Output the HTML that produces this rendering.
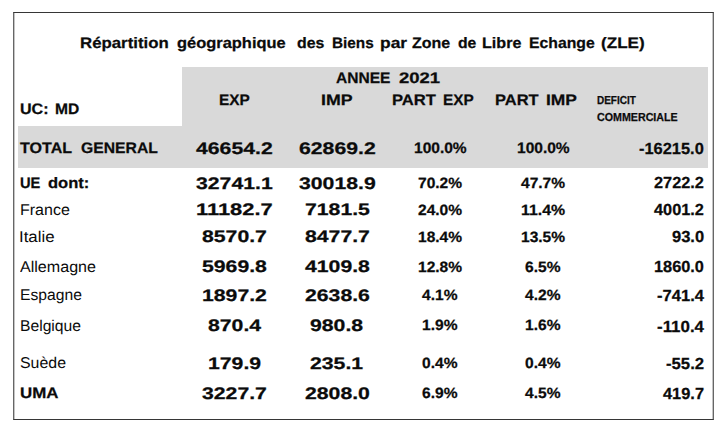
<!DOCTYPE html>
<html><head><meta charset="utf-8"><title>ZLE</title>
<style>
html,body{margin:0;padding:0;background:#fff;}
body{width:727px;height:432px;position:relative;overflow:hidden;font-family:"Liberation Sans",sans-serif;color:#0b0b0b;text-rendering:geometricPrecision;}
.box{position:absolute;left:13px;top:12px;width:699px;height:406px;border:1px solid #666;border-top-color:#363636;border-bottom-color:#363636;}
.box:before,.box:after{content:'';position:absolute;top:0;bottom:0;width:1px;background:#c4c4c4;}
.box:before{left:0;}
.box:after{right:0;}
.g{position:absolute;background:#d9d9d9;}
.t{position:absolute;white-space:pre;line-height:1;transform-origin:0 0;}
.b{font-weight:bold;-webkit-text-stroke:0.25px #0b0b0b;}
</style></head><body>
<div class="box"></div>
<div class="g" style="left:182px;top:67px;width:526px;height:60px"></div>
<div class="g" style="left:18px;top:126px;width:690px;height:41.5px"></div>
<span class="t b" style="left:80.20px;top:36.01px;font-size:15.20px;transform:scaleX(1.1069)">Répartition</span>
<span class="t b" style="left:176.50px;top:36.01px;font-size:15.20px;transform:scaleX(1.0827)">géographique</span>
<span class="t b" style="left:296.70px;top:36.01px;font-size:15.20px;transform:scaleX(1.0462)">des</span>
<span class="t b" style="left:331.50px;top:36.01px;font-size:15.20px;transform:scaleX(1.0099)">Biens</span>
<span class="t b" style="left:380.00px;top:36.01px;font-size:15.20px;transform:scaleX(1.1458)">par</span>
<span class="t b" style="left:412.40px;top:36.01px;font-size:15.20px;transform:scaleX(1.0547)">Zone</span>
<span class="t b" style="left:457.50px;top:36.01px;font-size:15.20px;transform:scaleX(1.0373)">de</span>
<span class="t b" style="left:482.10px;top:36.01px;font-size:15.20px;transform:scaleX(1.0602)">Libre</span>
<span class="t b" style="left:528.50px;top:36.01px;font-size:15.20px;transform:scaleX(1.0386)">Echange</span>
<span class="t b" style="left:601.20px;top:36.01px;font-size:15.20px;transform:scaleX(1.1252)">(ZLE)</span>
<span class="t b" style="left:336.20px;top:71.01px;font-size:15.20px;transform:scaleX(1.0241)">ANNEE</span>
<span class="t b" style="left:398.80px;top:71.01px;font-size:15.20px;transform:scaleX(1.2182)">2021</span>
<span class="t b" style="left:20.10px;top:102.01px;font-size:15.20px;transform:scaleX(1.0589)">UC:</span>
<span class="t b" style="left:55.20px;top:102.01px;font-size:15.20px;transform:scaleX(1.0281)">MD</span>
<span class="t b" style="left:218.90px;top:93.01px;font-size:15.20px;transform:scaleX(1.0127)">EXP</span>
<span class="t b" style="left:321.00px;top:93.01px;font-size:15.20px;transform:scaleX(1.1693)">IMP</span>
<span class="t b" style="left:392.40px;top:93.01px;font-size:15.20px;transform:scaleX(1.0932)">PART</span>
<span class="t b" style="left:442.80px;top:93.01px;font-size:15.20px;transform:scaleX(1.0094)">EXP</span>
<span class="t b" style="left:495.40px;top:93.01px;font-size:15.20px;transform:scaleX(1.0832)">PART</span>
<span class="t b" style="left:546.00px;top:93.01px;font-size:15.20px;transform:scaleX(1.1471)">IMP</span>
<span class="t b" style="left:597.00px;top:95.01px;font-size:11.60px;transform:scaleX(0.8601)">DEFICIT</span>
<span class="t b" style="left:597.20px;top:112.01px;font-size:11.60px;transform:scaleX(0.9208)">COMMERCIALE</span>
<span class="t b" style="left:19.80px;top:141.01px;font-size:15.20px;transform:scaleX(1.0579)">TOTAL</span>
<span class="t b" style="left:80.70px;top:141.01px;font-size:15.20px;transform:scaleX(1.0348)">GENERAL</span>
<span class="t b" style="left:20.20px;top:176.01px;font-size:15.20px;transform:scaleX(0.9662)">UE</span>
<span class="t b" style="left:48.00px;top:176.01px;font-size:15.20px;transform:scaleX(1.0899)">dont:</span>
<span class="t" style="left:20.10px;top:203.01px;font-size:15.60px;transform:scaleX(1.0258)">France</span>
<span class="t" style="left:19.40px;top:230.01px;font-size:15.60px;transform:scaleX(1.0775)">Italie</span>
<span class="t" style="left:19.90px;top:260.01px;font-size:15.60px;transform:scaleX(1.0311)">Allemagne</span>
<span class="t" style="left:20.00px;top:288.01px;font-size:15.60px;transform:scaleX(1.0051)">Espagne</span>
<span class="t" style="left:19.90px;top:319.01px;font-size:15.60px;transform:scaleX(1.0047)">Belgique</span>
<span class="t" style="left:19.60px;top:356.01px;font-size:15.60px;transform:scaleX(1.0196)">Suède</span>
<span class="t b" style="left:19.70px;top:386.01px;font-size:15.20px;transform:scaleX(1.1124)">UMA</span>
<span class="t b" style="left:195.71px;top:141.00px;font-size:16.70px;transform:scaleX(1.2718)">46654.2</span>
<span class="t b" style="left:298.61px;top:141.00px;font-size:16.70px;transform:scaleX(1.2718)">62869.2</span>
<span class="t b" style="left:413.85px;top:141.01px;font-size:15.20px;transform:scaleX(1.0221)">100.0%</span>
<span class="t b" style="left:516.65px;top:141.01px;font-size:15.20px;transform:scaleX(1.0221)">100.0%</span>
<span class="t b" style="left:639.10px;top:142.00px;font-size:16.00px;transform:scaleX(1.0258)">-16215.0</span>
<span class="t b" style="left:195.71px;top:176.00px;font-size:16.70px;transform:scaleX(1.2718)">32741.1</span>
<span class="t b" style="left:298.61px;top:176.00px;font-size:16.70px;transform:scaleX(1.2718)">30018.9</span>
<span class="t b" style="left:418.15px;top:177.01px;font-size:14.90px;transform:scaleX(1.0440)">70.2%</span>
<span class="t b" style="left:520.95px;top:177.01px;font-size:14.90px;transform:scaleX(1.0440)">47.7%</span>
<span class="t b" style="left:654.00px;top:176.00px;font-size:16.00px;transform:scaleX(1.0195)">2722.2</span>
<span class="t b" style="left:195.71px;top:202.00px;font-size:16.70px;transform:scaleX(1.3121)">11182.7</span>
<span class="t b" style="left:304.52px;top:202.00px;font-size:16.70px;transform:scaleX(1.2714)">7181.5</span>
<span class="t b" style="left:418.15px;top:204.01px;font-size:14.90px;transform:scaleX(1.0440)">24.0%</span>
<span class="t b" style="left:520.95px;top:204.01px;font-size:14.90px;transform:scaleX(1.0647)">11.4%</span>
<span class="t b" style="left:654.00px;top:203.00px;font-size:16.00px;transform:scaleX(1.0195)">4001.2</span>
<span class="t b" style="left:201.62px;top:229.00px;font-size:16.70px;transform:scaleX(1.2714)">8570.7</span>
<span class="t b" style="left:304.52px;top:229.00px;font-size:16.70px;transform:scaleX(1.2714)">8477.7</span>
<span class="t b" style="left:418.15px;top:231.01px;font-size:14.90px;transform:scaleX(1.0440)">18.4%</span>
<span class="t b" style="left:520.95px;top:231.01px;font-size:14.90px;transform:scaleX(1.0440)">13.5%</span>
<span class="t b" style="left:671.80px;top:230.00px;font-size:16.00px;transform:scaleX(1.0310)">93.0</span>
<span class="t b" style="left:201.62px;top:259.00px;font-size:16.70px;transform:scaleX(1.2714)">5969.8</span>
<span class="t b" style="left:304.52px;top:259.00px;font-size:16.70px;transform:scaleX(1.2714)">4109.8</span>
<span class="t b" style="left:418.15px;top:261.01px;font-size:14.90px;transform:scaleX(1.0440)">12.8%</span>
<span class="t b" style="left:525.25px;top:261.01px;font-size:14.90px;transform:scaleX(1.0454)">6.5%</span>
<span class="t b" style="left:654.00px;top:260.00px;font-size:16.00px;transform:scaleX(1.0195)">1860.0</span>
<span class="t b" style="left:201.62px;top:288.00px;font-size:16.70px;transform:scaleX(1.2714)">1897.2</span>
<span class="t b" style="left:304.52px;top:288.00px;font-size:16.70px;transform:scaleX(1.2714)">2638.6</span>
<span class="t b" style="left:422.45px;top:289.01px;font-size:14.90px;transform:scaleX(1.0454)">4.1%</span>
<span class="t b" style="left:525.25px;top:289.01px;font-size:14.90px;transform:scaleX(1.0454)">4.2%</span>
<span class="t b" style="left:656.90px;top:289.00px;font-size:16.00px;transform:scaleX(1.0362)">-741.4</span>
<span class="t b" style="left:207.54px;top:318.00px;font-size:16.70px;transform:scaleX(1.2713)">870.4</span>
<span class="t b" style="left:310.44px;top:318.00px;font-size:16.70px;transform:scaleX(1.2713)">980.8</span>
<span class="t b" style="left:422.45px;top:319.01px;font-size:14.90px;transform:scaleX(1.0454)">1.9%</span>
<span class="t b" style="left:525.25px;top:319.01px;font-size:14.90px;transform:scaleX(1.0454)">1.6%</span>
<span class="t b" style="left:656.90px;top:320.00px;font-size:16.00px;transform:scaleX(1.0567)">-110.4</span>
<span class="t b" style="left:207.54px;top:356.00px;font-size:16.70px;transform:scaleX(1.2713)">179.9</span>
<span class="t b" style="left:310.44px;top:356.00px;font-size:16.70px;transform:scaleX(1.2713)">235.1</span>
<span class="t b" style="left:422.45px;top:357.01px;font-size:14.90px;transform:scaleX(1.0454)">0.4%</span>
<span class="t b" style="left:525.25px;top:357.01px;font-size:14.90px;transform:scaleX(1.0454)">0.4%</span>
<span class="t b" style="left:665.80px;top:357.00px;font-size:16.00px;transform:scaleX(1.0449)">-55.2</span>
<span class="t b" style="left:201.62px;top:386.00px;font-size:16.70px;transform:scaleX(1.2714)">3227.7</span>
<span class="t b" style="left:304.52px;top:386.00px;font-size:16.70px;transform:scaleX(1.2714)">2808.0</span>
<span class="t b" style="left:422.45px;top:387.01px;font-size:14.90px;transform:scaleX(1.0454)">6.9%</span>
<span class="t b" style="left:525.25px;top:387.01px;font-size:14.90px;transform:scaleX(1.0454)">4.5%</span>
<span class="t b" style="left:662.90px;top:387.00px;font-size:16.00px;transform:scaleX(1.0242)">419.7</span>
</body></html>
